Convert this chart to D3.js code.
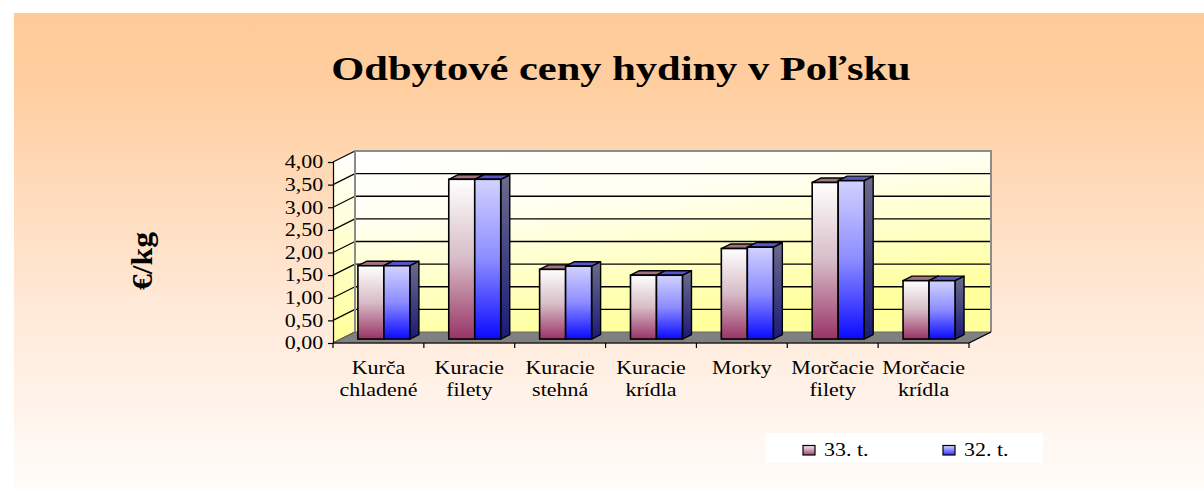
<!DOCTYPE html>
<html>
<head>
<meta charset="utf-8">
<script src="https://cdn.jsdelivr.net/npm/d3@7"></script>
<style>
  body { margin: 0; background: #fff; }
  svg { display: block; }
  text { font-family: "Liberation Serif", "Times New Roman", serif; }
</style>
</head>
<body>
<div id="chart"></div>
<script>
// data
var categories = ["Kurča chladené", "Kuracie filety", "Kuracie stehná", "Kuracie krídla", "Morky", "Morčacie filety", "Morčacie krídla"];
var week33 = [1.62, 3.53, 1.54, 1.41, 2.00, 3.46, 1.29];
var week32 = [1.62, 3.53, 1.61, 1.41, 2.03, 3.50, 1.29];
var seriesNames = ["33. t.", "32. t."];
var yTicks = [0, 0.5, 1, 1.5, 2, 2.5, 3, 3.5, 4];

var W = 1204, H = 491;
var SX = 1.22; // text in the original is stretched sideways
var depth = {dx: 22, dy: -11};

var svg = d3.select("#chart").append("svg")
  .attr("width", W).attr("height", H);

var defs = svg.append("defs");
function vgrad(id, stops, x2, y2) {
  var g = defs.append("linearGradient").attr("id", id)
    .attr("x1", 0).attr("y1", 0).attr("x2", x2 || 0).attr("y2", y2 == null ? 1 : y2);
  stops.forEach(function(s) {
    g.append("stop").attr("offset", s[0]).attr("stop-color", s[1]);
  });
}
vgrad("bg", [[0, "#FFCA98"], [0.15, "#FFCE9F"], [0.6, "#FFE8D6"], [1, "#FFFCFA"]]);
vgrad("wall", [[0, "#FFFFFF"], [0.35, "#FFFFF2"], [1, "#FFFF9C"]], 0.4, 1);
vgrad("lwall", [[0, "#FFFFFF"], [1, "#FFFF99"]]);
vgrad("s0front", [[0, "#FFFFFF"], [0.5, "#D7BCC6"], [1, "#993366"]]);
vgrad("s1front", [[0, "#D2D2FF"], [0.5, "#8C8CFF"], [1, "#0A0AFF"]]);
vgrad("s0side", [[0, "#806878"], [1, "#4A1030"]]);
vgrad("s1side", [[0, "#6C6C8C"], [1, "#1A1A78"]]);
vgrad("leg0", [[0, "#F4ECF0"], [1, "#A04870"]]);
vgrad("leg1", [[0, "#D8D8FF"], [1, "#3030FF"]]);
var topColors = ["#A07282", "#5656C8"];

// background panel
svg.append("rect")
  .attr("x", 14).attr("y", 13).attr("width", W - 14).attr("height", 476)
  .attr("fill", "url(#bg)");

// scales
var x = d3.scaleBand().domain(categories).range([333, 969]);
var y = d3.scaleLinear().domain([0, 4]).range([343, 162]);

var x0 = x.range()[0], x1 = x.range()[1];
var yTop = y(4), yBot = y(0);

// left wall
svg.append("path")
  .attr("d", "M" + x0 + "," + yBot + "L" + x0 + "," + yTop +
    "L" + (x0 + depth.dx) + "," + (yTop + depth.dy) +
    "L" + (x0 + depth.dx) + "," + (yBot + depth.dy) + "Z")
  .attr("fill", "url(#lwall)");

// back wall
svg.append("rect")
  .attr("x", x0 + depth.dx).attr("y", yTop + depth.dy)
  .attr("width", x1 - x0).attr("height", yBot - yTop)
  .attr("fill", "url(#wall)");

// back gridlines and left wall slants
svg.append("g").selectAll("line")
  .data(yTicks.filter(function(v) { return v > 0 && v < 4; }))
  .enter().append("line")
    .attr("x1", x0 + depth.dx).attr("x2", x1 + depth.dx)
    .attr("y1", function(d) { return y(d) + depth.dy; })
    .attr("y2", function(d) { return y(d) + depth.dy; })
    .attr("stroke", "#000").attr("stroke-width", 1.3);

svg.append("g").selectAll("line")
  .data(yTicks)
  .enter().append("line")
    .attr("x1", x0).attr("x2", x0 + depth.dx)
    .attr("y1", function(d) { return y(d); })
    .attr("y2", function(d) { return y(d) + depth.dy; })
    .attr("stroke", "#000").attr("stroke-width", 1.2);

// wall borders
svg.append("path")
  .attr("d", "M" + (x0 + depth.dx) + "," + (yBot + depth.dy) +
    "L" + (x0 + depth.dx) + "," + (yTop + depth.dy) +
    "L" + (x1 + depth.dx) + "," + (yTop + depth.dy) +
    "L" + (x1 + depth.dx) + "," + (yBot + depth.dy))
  .attr("fill", "none").attr("stroke", "#8C8C8C").attr("stroke-width", 2);

// floor
svg.append("path")
  .attr("d", "M" + x0 + "," + yBot + "L" + x1 + "," + yBot +
    "L" + (x1 + depth.dx) + "," + (yBot + depth.dy) +
    "L" + (x0 + depth.dx) + "," + (yBot + depth.dy) + "Z")
  .attr("fill", "#808080").attr("stroke", "#666").attr("stroke-width", 1);
svg.append("path")
  .attr("d", "M" + x0 + "," + yBot + "L" + x1 + "," + yBot +
    "L" + (x1 + depth.dx) + "," + (yBot + depth.dy))
  .attr("fill", "none").attr("stroke", "#000").attr("stroke-width", 1.2);

// bars
var bw = x.bandwidth() * 0.286;
var offset = x.bandwidth() * 0.187;
var f0 = 0.36, f1 = 0.77;
var series = [week33, week32];

var bars = svg.append("g");
series.forEach(function(vals, s) {
  var g = bars.append("g");
  var data = categories.map(function(c, i) { return {cat: c, v: vals[i]}; });
  var item = g.selectAll("g").data(data).enter().append("g");
  function fx(d) { return x(d.cat) + offset + s * bw + depth.dx * f0; }
  var sy = depth.dy * f0;
  var ddx = depth.dx * (f1 - f0), ddy = depth.dy * (f1 - f0);
  // side
  item.append("path")
    .attr("d", function(d) {
      var L = fx(d) + bw, T = y(d.v) + sy, B = y(0) + sy;
      return "M" + L + "," + B + "L" + L + "," + T + "L" + (L + ddx) + "," + (T + ddy) +
        "L" + (L + ddx) + "," + (B + ddy) + "Z";
    })
    .attr("fill", "url(#s" + s + "side)")
    .attr("stroke", "#000").attr("stroke-width", 1.4).attr("stroke-linejoin", "round");
  // top
  item.append("path")
    .attr("d", function(d) {
      var L = fx(d), T = y(d.v) + sy;
      return "M" + L + "," + T + "L" + (L + bw) + "," + T + "L" + (L + bw + ddx) + "," + (T + ddy) +
        "L" + (L + ddx) + "," + (T + ddy) + "Z";
    })
    .attr("fill", topColors[s])
    .attr("stroke", "#000").attr("stroke-width", 1.4).attr("stroke-linejoin", "round");
  // front
  item.append("rect")
    .attr("x", fx)
    .attr("y", function(d) { return y(d.v) + sy; })
    .attr("width", bw)
    .attr("height", function(d) { return y(0) - y(d.v); })
    .attr("fill", "url(#s" + s + "front)")
    .attr("stroke", "#000").attr("stroke-width", 1.6);
});

// y axis
var yAxis = svg.append("g")
  .attr("transform", "translate(" + x0 + ",0)")
  .call(d3.axisLeft(y).tickValues(yTicks).tickSize(5).tickPadding(3)
    .tickFormat(function(d) { return d.toFixed(2).replace(".", ","); }));
yAxis.select(".domain").attr("stroke", "#000").attr("stroke-width", 1.2);
yAxis.selectAll(".tick line").attr("stroke", "#000").attr("stroke-width", 1.2);
yAxis.selectAll("text")
  .attr("font-family", "Liberation Serif, Times New Roman, serif")
  .attr("font-size", 18).attr("fill", "#000")
  .attr("transform", "scale(" + SX + ",1)");

// x axis ticks at category borders
var borders = categories.map(function(c) { return x(c); }).concat([x1]);
svg.append("g").selectAll("line")
  .data(borders).enter().append("line")
    .attr("x1", function(d) { return d; }).attr("x2", function(d) { return d; })
    .attr("y1", yBot).attr("y2", yBot + 5)
    .attr("stroke", "#000").attr("stroke-width", 1.2);

// category labels
var cl = svg.append("g").selectAll("text")
  .data(categories).enter().append("text")
    .attr("transform", function(d) {
      return "translate(" + (x(d) + x.bandwidth() / 2) + ",374) scale(" + SX + ",1)";
    })
    .attr("text-anchor", "middle")
    .attr("font-size", 18);
cl.each(function(d) {
  var parts = d.split(" ");
  var t = d3.select(this);
  parts.forEach(function(p, i) {
    t.append("tspan").attr("x", 0).attr("y", i * 22).text(p);
  });
});

// title
svg.append("text")
  .attr("transform", "translate(621,80) scale(1.25,1)")
  .attr("text-anchor", "middle")
  .attr("font-size", 34).attr("font-weight", "bold")
  .text("Odbytové ceny hydiny v Poľsku");

// y axis title
svg.append("text")
  .attr("transform", "translate(152,261) scale(1.15,1) rotate(-90)")
  .attr("text-anchor", "middle")
  .attr("font-size", 25).attr("font-weight", "bold")
  .attr("textLength", 58).attr("lengthAdjust", "spacingAndGlyphs")
  .text("€/kg");

// legend
var leg = svg.append("g");
leg.append("rect")
  .attr("x", 765).attr("y", 433).attr("width", 278).attr("height", 30)
  .attr("fill", "#fff");
var legX = [803, 943];
seriesNames.forEach(function(n, i) {
  leg.append("rect")
    .attr("x", legX[i]).attr("y", 445.5).attr("width", 12).attr("height", 9.5)
    .attr("fill", "url(#leg" + i + ")").attr("stroke", "#000").attr("stroke-width", 1.2);
  leg.append("text")
    .attr("transform", "translate(" + (legX[i] + 21) + ",456) scale(" + SX + ",1)")
    .attr("font-size", 18)
    .text(n);
});
</script>
</body>
</html>
